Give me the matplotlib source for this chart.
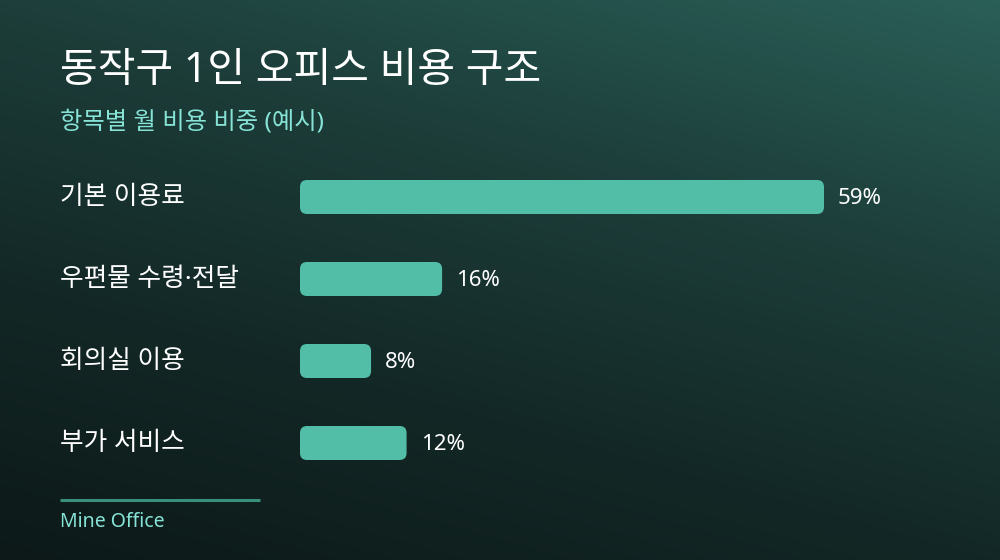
import matplotlib
matplotlib.use("Agg")
import matplotlib.pyplot as plt
from matplotlib.patches import FancyBboxPatch
from matplotlib.colors import LinearSegmentedColormap
import numpy as np

# latin + digits from Noto Sans, hangul falls back to the CJK face
plt.rcParams['font.family'] = ['Noto Sans', 'Noto Sans CJK KR', 'DejaVu Sans']

title = "동작구 1인 오피스 비용 구조"
subtitle = "항목별 월 비용 비중 (예시)"
categories = ["기본 이용료", "우편물 수령·전달", "회의실 이용", "부가 서비스"]
shares = [59, 16, 8, 12]
footer = "Mine Office"

W, H = 1000, 560
fig = plt.figure(figsize=(W / 100, H / 100), dpi=100)

# background gradient: lighter teal top-right, dark bottom-left
bg = fig.add_axes([0, 0, 1, 1])
bg.set_xlim(0, W)
bg.set_ylim(H, 0)
bg.axis("off")
yy, xx = np.mgrid[0:H, 0:W]
t = (xx / W) * 0.45 + (1 - yy / H) * 0.9
t = np.clip(t / 1.35, 0, 1)
cmap = LinearSegmentedColormap.from_list("bg", ["#0c1918", "#132826", "#1d3e3a", "#2a5f57"])
bg.imshow(t, cmap=cmap, extent=[0, W, H, 0], aspect="auto", zorder=0)

bg.text(60, 71, title, color="white", fontsize=29.5, va="center", ha="left")
bg.text(60, 123, subtitle, color="#86e3d6", fontsize=17.5, va="center", ha="left")
bg.plot([60, 260], [500, 500], color="#3a8f7c", lw=2.2, solid_capstyle="butt")
bg.text(60, 522, footer, color="#86e3d6", fontsize=14, va="center", ha="left")

# bar area: x from 300px to 1000px, 8.88 px per percent; rows 82 px apart
px_per_pct = 524 / 59
ax = fig.add_axes([300 / W, 1 - 484 / H, 700 / W, 328 / H])
ax.set_xlim(0, 700 / px_per_pct)
ax.set_ylim(len(categories) - 0.5, -0.5)
ax.axis("off")
ax.patch.set_alpha(0)

bar_h = 34 / 82
x_per_px = 1 / px_per_pct
y_per_px = 1 / 82
radius_px = 7
for i, (cat, v) in enumerate(zip(categories, shares)):
    box = FancyBboxPatch((0, i - bar_h / 2), v, bar_h,
                         boxstyle=f"round,pad=0,rounding_size={radius_px * x_per_px}",
                         mutation_aspect=y_per_px / x_per_px,
                         facecolor="#52bea7", edgecolor="none")
    ax.add_patch(box)
    ax.text(v + 14 * x_per_px, i + 1 * y_per_px, f"{v}%", color="white", fontsize=16,
            va="center", ha="left")
    ax.text(-240 * x_per_px, i + 1 * y_per_px, cat, color="white", fontsize=18.5,
            va="center", ha="left", clip_on=False)

fig.savefig("out.png", dpi=100)
